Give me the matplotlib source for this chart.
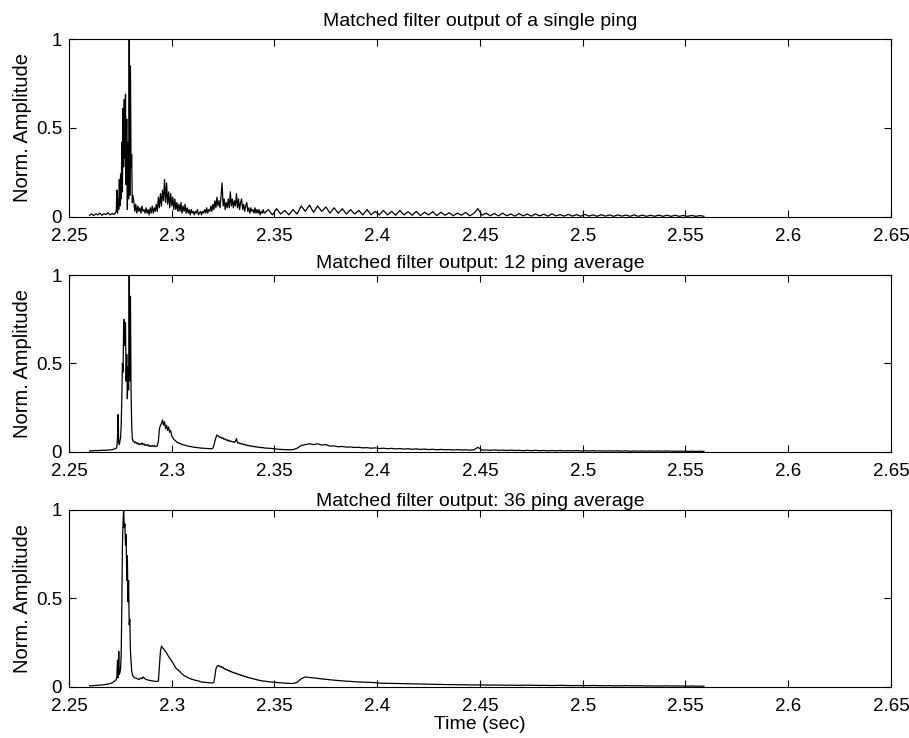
import numpy as np
import matplotlib.pyplot as plt

# sample times (sec), shared by all three traces
time_s = [
    2.260, 2.261, 2.262, 2.263, 2.264, 2.265, 2.266, 2.267, 2.268, 2.269, 2.270, 2.271, 2.272,
    2.2730, 2.2733, 2.2736, 2.2739, 2.2742, 2.2745, 2.2748, 2.2751, 2.2754, 2.2757,
    2.2760, 2.2763, 2.2766, 2.2769, 2.2772, 2.2775, 2.2778, 2.2781, 2.2784, 2.2787,
    2.2790, 2.2793, 2.2796, 2.2799, 2.2802, 2.2805, 2.2808, 2.2811,
    2.2815, 2.2820, 2.2825, 2.2830, 2.2835, 2.2840, 2.2845, 2.2850, 2.2855, 2.2860,
    2.2865, 2.2870, 2.2875, 2.2880, 2.2885, 2.2890, 2.2895, 2.2900, 2.2905, 2.2910,
    2.2915, 2.2920, 2.2925, 2.2930, 2.2935, 2.2940, 2.2945, 2.2950, 2.2955, 2.2960,
    2.2965, 2.2970, 2.2975, 2.2980, 2.2985, 2.2990, 2.2995, 2.3000, 2.3005, 2.3010,
    2.3015, 2.3020, 2.3025, 2.3030, 2.3035, 2.3040, 2.3045, 2.3050, 2.3055, 2.3060,
    2.3065, 2.3070, 2.3075, 2.3080, 2.3085, 2.3090, 2.3095, 2.3100, 2.3105, 2.3110,
    2.3115, 2.3120, 2.3125, 2.3130, 2.3135, 2.3140, 2.3145, 2.3150, 2.3155, 2.3160,
    2.3165, 2.3170, 2.3175, 2.3180, 2.3185, 2.3190, 2.3195, 2.3200, 2.3205, 2.3210,
    2.3215, 2.3220, 2.3225, 2.3230, 2.3235, 2.3240, 2.3245, 2.3250, 2.3255, 2.3260,
    2.3265, 2.3270, 2.3275, 2.3280, 2.3285, 2.3290, 2.3295, 2.3300, 2.3305, 2.3310,
    2.3315, 2.3320, 2.3325, 2.3330, 2.3335, 2.3340, 2.3345, 2.3350, 2.3355, 2.3360,
    2.3365, 2.3370, 2.3375, 2.3380, 2.3385, 2.3390, 2.3395, 2.3400, 2.3405, 2.3410,
    2.3415, 2.3420, 2.3425, 2.3430, 2.3435, 2.3440, 2.3445, 2.3450,
    2.347, 2.349, 2.351, 2.353, 2.355, 2.357, 2.359, 2.361, 2.363, 2.365,
    2.367, 2.369, 2.371, 2.373, 2.375, 2.377, 2.379, 2.381, 2.383, 2.385,
    2.387, 2.389, 2.391, 2.393, 2.395, 2.397, 2.399, 2.401, 2.403, 2.405,
    2.407, 2.409, 2.411, 2.413, 2.415, 2.417, 2.419, 2.421, 2.423, 2.425,
    2.427, 2.429, 2.431, 2.433, 2.435, 2.437, 2.439, 2.441, 2.443, 2.445,
    2.447, 2.449, 2.451, 2.453, 2.455, 2.457, 2.459, 2.461, 2.463, 2.465,
    2.467, 2.469, 2.471, 2.473, 2.475, 2.477, 2.479, 2.481, 2.483, 2.485,
    2.487, 2.489, 2.491, 2.493, 2.495, 2.497, 2.499, 2.501, 2.503, 2.505,
    2.507, 2.509, 2.511, 2.513, 2.515, 2.517, 2.519, 2.521, 2.523, 2.525,
    2.527, 2.529, 2.531, 2.533, 2.535, 2.537, 2.539, 2.541, 2.543, 2.545,
    2.547, 2.549, 2.551, 2.553, 2.555, 2.557, 2.559,
]

# single ping
amp_single = [
    0.008, 0.015, 0.006, 0.016, 0.010, 0.020, 0.008, 0.017, 0.012, 0.022, 0.010, 0.018, 0.012,
    0.03, 0.15, 0.02, 0.10, 0.04, 0.21, 0.06, 0.24, 0.10, 0.42,
    0.14, 0.61, 0.28, 0.66, 0.33, 0.69, 0.18, 0.55, 0.04, 0.42,
    0.10, 1.00, 0.12, 0.85, 0.28, 0.35, 0.08, 0.12,
    0.09, 0.03, 0.07, 0.02, 0.06, 0.03, 0.05, 0.02, 0.06, 0.03,
    0.04, 0.02, 0.05, 0.02, 0.04, 0.01, 0.05, 0.02, 0.06, 0.02,
    0.05, 0.03, 0.07, 0.03, 0.11, 0.05, 0.13, 0.06, 0.15, 0.09,
    0.21, 0.08, 0.19, 0.07, 0.14, 0.05, 0.13, 0.06, 0.11, 0.04,
    0.10, 0.04, 0.08, 0.03, 0.07, 0.03, 0.08, 0.02, 0.06, 0.03,
    0.07, 0.02, 0.05, 0.02, 0.04, 0.01, 0.04, 0.02, 0.03, 0.01,
    0.03, 0.02, 0.04, 0.01, 0.02, 0.03, 0.01, 0.03, 0.02, 0.04,
    0.02, 0.05, 0.02, 0.04, 0.03, 0.06, 0.03, 0.07, 0.04, 0.09,
    0.05, 0.11, 0.06, 0.09, 0.05, 0.12, 0.19, 0.06, 0.10, 0.04,
    0.08, 0.05, 0.10, 0.05, 0.14, 0.06, 0.10, 0.05, 0.09, 0.06,
    0.13, 0.05, 0.10, 0.04, 0.08, 0.10, 0.04, 0.07, 0.03, 0.06,
    0.08, 0.03, 0.05, 0.02, 0.05, 0.03, 0.04, 0.02, 0.05, 0.02,
    0.04, 0.02, 0.04, 0.01, 0.03, 0.02, 0.04, 0.02,
    0.04, 0.01, 0.045, 0.015, 0.035, 0.01, 0.04, 0.015, 0.06, 0.03,
    0.065, 0.025, 0.06, 0.03, 0.055, 0.02, 0.05, 0.02, 0.045, 0.015,
    0.04, 0.015, 0.035, 0.01, 0.04, 0.01, 0.03, 0.01, 0.035, 0.01,
    0.03, 0.008, 0.035, 0.01, 0.028, 0.008, 0.03, 0.006, 0.025, 0.01,
    0.028, 0.006, 0.025, 0.008, 0.022, 0.005, 0.02, 0.008, 0.024, 0.005,
    0.018, 0.045, 0.008, 0.02, 0.005, 0.018, 0.004, 0.02, 0.005, 0.015,
    0.003, 0.018, 0.004, 0.015, 0.003, 0.016, 0.004, 0.014, 0.003, 0.016,
    0.004, 0.012, 0.003, 0.013, 0.003, 0.012, 0.002, 0.013, 0.003, 0.010,
    0.002, 0.011, 0.003, 0.010, 0.002, 0.010, 0.003, 0.009, 0.002, 0.010,
    0.002, 0.009, 0.002, 0.008, 0.002, 0.009, 0.002, 0.008, 0.002, 0.008,
    0.002, 0.007, 0.002, 0.007, 0.002, 0.006, 0.002,
]

# 12 ping average
amp_avg12 = [
    0.004, 0.006, 0.005, 0.007, 0.006, 0.008, 0.007, 0.009, 0.008, 0.010, 0.010, 0.012, 0.015,
    0.02, 0.03, 0.08, 0.21, 0.05, 0.04, 0.06, 0.08, 0.15, 0.30,
    0.50, 0.45, 0.72, 0.75, 0.60, 0.73, 0.40, 0.55, 0.30, 0.48,
    0.35, 1.00, 0.40, 0.88, 0.35, 0.15, 0.08, 0.06,
    0.06, 0.05, 0.055, 0.045, 0.05, 0.04, 0.045, 0.04, 0.05, 0.04,
    0.045, 0.035, 0.04, 0.035, 0.04, 0.03, 0.035, 0.03, 0.035, 0.03,
    0.035, 0.03, 0.03, 0.035, 0.06, 0.13, 0.15, 0.16, 0.18, 0.15,
    0.17, 0.13, 0.15, 0.12, 0.14, 0.11, 0.12, 0.09, 0.08, 0.07,
    0.065, 0.06, 0.055, 0.05, 0.05, 0.045, 0.045, 0.04, 0.04, 0.038,
    0.036, 0.035, 0.033, 0.032, 0.03, 0.03, 0.028, 0.028, 0.026, 0.025,
    0.025, 0.024, 0.023, 0.022, 0.022, 0.021, 0.02, 0.02, 0.02, 0.019,
    0.019, 0.018, 0.018, 0.018, 0.017, 0.017, 0.017, 0.02, 0.035, 0.06,
    0.08, 0.095, 0.09, 0.085, 0.08, 0.082, 0.075, 0.078, 0.07, 0.072,
    0.065, 0.068, 0.06, 0.065, 0.058, 0.06, 0.055, 0.057, 0.052, 0.06,
    0.075, 0.05, 0.052, 0.046, 0.048, 0.042, 0.045, 0.04, 0.042, 0.037,
    0.039, 0.034, 0.036, 0.032, 0.034, 0.03, 0.032, 0.028, 0.03, 0.026,
    0.028, 0.025, 0.026, 0.023, 0.025, 0.022, 0.024, 0.021,
    0.02, 0.018, 0.015, 0.013, 0.012, 0.011, 0.012, 0.02, 0.035, 0.04,
    0.045, 0.04, 0.045, 0.038, 0.04, 0.032, 0.033, 0.028, 0.03, 0.026,
    0.027, 0.024, 0.025, 0.022, 0.023, 0.02, 0.022, 0.018, 0.02, 0.017,
    0.019, 0.016, 0.018, 0.015, 0.017, 0.014, 0.016, 0.013, 0.015, 0.012,
    0.014, 0.011, 0.013, 0.011, 0.012, 0.01, 0.012, 0.01, 0.011, 0.009,
    0.011, 0.025, 0.009, 0.01, 0.008, 0.01, 0.008, 0.009, 0.007, 0.009,
    0.007, 0.008, 0.006, 0.008, 0.006, 0.008, 0.006, 0.007, 0.005, 0.007,
    0.005, 0.007, 0.005, 0.006, 0.005, 0.006, 0.004, 0.006, 0.004, 0.006,
    0.004, 0.005, 0.004, 0.005, 0.004, 0.005, 0.003, 0.005, 0.003, 0.004,
    0.003, 0.004, 0.003, 0.004, 0.003, 0.004, 0.003, 0.004, 0.003, 0.003,
    0.003, 0.003, 0.002, 0.003, 0.002, 0.003, 0.002,
]

# 36 ping average
amp_avg36 = [
    0.005, 0.006, 0.006, 0.007, 0.008, 0.009, 0.010, 0.011, 0.013, 0.015, 0.018, 0.022, 0.03,
    0.04, 0.06, 0.15, 0.05, 0.20, 0.07, 0.08, 0.10, 0.18, 0.45,
    0.80, 0.93, 1.00, 0.90, 0.92, 0.80, 0.86, 0.60, 0.74, 0.48,
    0.60, 0.35, 0.38, 0.20, 0.14, 0.09, 0.07, 0.06,
    0.055, 0.05, 0.05, 0.045, 0.045, 0.04, 0.045, 0.05, 0.045, 0.055,
    0.05, 0.045, 0.04, 0.04, 0.038, 0.036, 0.035, 0.034, 0.033, 0.032,
    0.031, 0.03, 0.03, 0.03, 0.032, 0.12, 0.20, 0.23, 0.22, 0.215,
    0.205, 0.2, 0.19, 0.18, 0.17, 0.16, 0.155, 0.145, 0.135, 0.125,
    0.115, 0.105, 0.1, 0.095, 0.09, 0.085, 0.078, 0.072, 0.068, 0.063,
    0.06, 0.057, 0.054, 0.05, 0.048, 0.046, 0.043, 0.041, 0.04, 0.038,
    0.036, 0.035, 0.034, 0.033, 0.03, 0.028, 0.027, 0.026, 0.025, 0.025,
    0.024, 0.024, 0.023, 0.023, 0.022, 0.022, 0.022, 0.022, 0.025, 0.06,
    0.10, 0.115, 0.12, 0.118, 0.112, 0.115, 0.108, 0.11, 0.1, 0.102,
    0.095, 0.097, 0.09, 0.092, 0.085, 0.087, 0.08, 0.082, 0.076, 0.078,
    0.072, 0.074, 0.068, 0.07, 0.064, 0.066, 0.06, 0.062, 0.057, 0.058,
    0.053, 0.055, 0.05, 0.051, 0.047, 0.048, 0.044, 0.045, 0.041, 0.042,
    0.038, 0.039, 0.035, 0.036, 0.033, 0.034, 0.031, 0.032,
    0.028, 0.026, 0.024, 0.022, 0.02, 0.019, 0.018, 0.025, 0.045, 0.055,
    0.052, 0.05, 0.047, 0.044, 0.042, 0.039, 0.037, 0.035, 0.033, 0.031,
    0.03, 0.028, 0.027, 0.026, 0.025, 0.024, 0.023, 0.02, 0.02, 0.019,
    0.019, 0.018, 0.018, 0.017, 0.017, 0.016, 0.016, 0.015, 0.015, 0.014,
    0.014, 0.013, 0.013, 0.012, 0.012, 0.012, 0.011, 0.011, 0.011, 0.01,
    0.01, 0.01, 0.01, 0.009, 0.009, 0.010, 0.009, 0.009, 0.008, 0.009,
    0.008, 0.008, 0.008, 0.009, 0.008, 0.008, 0.007, 0.008, 0.007, 0.007,
    0.007, 0.008, 0.007, 0.007, 0.006, 0.007, 0.006, 0.006, 0.006, 0.007,
    0.006, 0.006, 0.005, 0.006, 0.005, 0.005, 0.005, 0.006, 0.005, 0.005,
    0.005, 0.005, 0.004, 0.005, 0.004, 0.004, 0.004, 0.005, 0.004, 0.004,
    0.004, 0.004, 0.003, 0.004, 0.003, 0.003, 0.003,
]

titles = [
    "Matched filter output of a single ping",
    "Matched filter output: 12 ping average",
    "Matched filter output: 36 ping average",
]
x_ticks = [2.25, 2.3, 2.35, 2.4, 2.45, 2.5, 2.55, 2.6, 2.65]
x_tick_labels = ["2.25", "2.3", "2.35", "2.4", "2.45", "2.5", "2.55", "2.6", "2.65"]
y_ticks = [0, 0.5, 1]
y_tick_labels = ["0", "0.5", "1"]

plt.rcParams['font.family'] = ['Liberation Sans', 'DejaVu Sans']

t = np.array(time_s)
traces = [np.array(amp_single), np.array(amp_avg12), np.array(amp_avg36)]
for a in traces:
    assert len(a) == len(t), (len(a), len(t))

fig = plt.figure(figsize=(9.09, 7.38), dpi=100)
# axes boxes (left, bottom, width, height) in figure fraction
boxes = [
    [0.0759, 0.7064, 0.9043, 0.2404],
    [0.0759, 0.3879, 0.9043, 0.2394],
    [0.0759, 0.0695, 0.9043, 0.2398],
]
title_pads = [9.5, 4.8, 2.4]

for i in range(3):
    ax = fig.add_axes(boxes[i])
    ax.plot(t, traces[i], color='black', linewidth=0.9)
    ax.set_xlim(2.25, 2.65)
    ax.set_ylim(0, 1)
    ax.set_xticks(x_ticks)
    ax.set_xticklabels(x_tick_labels)
    ax.set_yticks(y_ticks)
    ax.set_yticklabels(y_tick_labels)
    ax.tick_params(direction='in', top=True, right=True, length=5, width=0.8,
                   labelsize=13.5)
    ax.tick_params(axis='x', pad=8)
    ax.tick_params(axis='y', pad=5)
    for s in ax.spines.values():
        s.set_linewidth(0.8)
    ax.set_title(titles[i], fontsize=14, pad=title_pads[i])
    ax.set_ylabel("Norm. Amplitude", fontsize=14.5, labelpad=3)

ax.set_xlabel("Time (sec)", fontsize=14, labelpad=1)

fig.savefig("out.png", dpi=100)
